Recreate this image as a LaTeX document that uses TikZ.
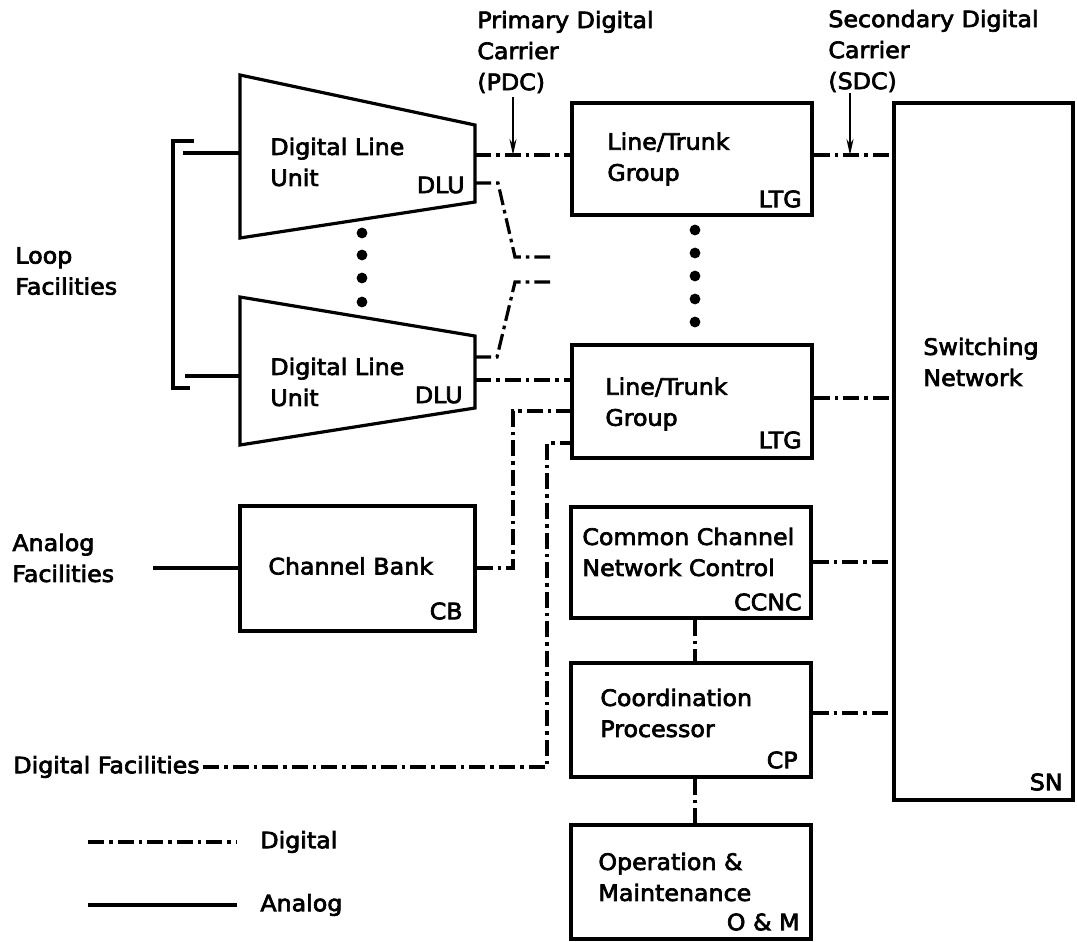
\documentclass[tikz,border=0pt]{standalone}
\usepackage{fontspec}
\setmainfont{DejaVu Sans}[FakeStretch=1.05, FakeBold=3]
\usetikzlibrary{arrows.meta,fit}

\begin{document}
\begin{tikzpicture}[x=0.5pt, y=-0.5pt,
    box/.style={draw, line width=1.6pt, inner sep=0pt},
    digital/.style={line width=1.6pt, dash pattern=on 8pt off 2.5pt on 1.8pt off 2.5pt},
    analog/.style={line width=1.6pt},
    pointer/.style={line width=1pt, -{Stealth[length=8pt, width=3.5pt]}},
    txt/.style={font=\fontsize{11.3}{15.5}\selectfont, align=left, inner sep=0pt, anchor=west},
    tag/.style={font=\fontsize{11.3}{15.5}\selectfont, inner sep=0pt, anchor=east}]
  \useasboundingbox (0,0) rectangle (1077,942);

  % digital line units
  \draw[box, line join=miter] (240,75) -- (475,125) -- (475,202) -- (240,238) -- cycle;
  \node[txt] (dluA text) at (270,162) {Digital Line\\Unit};
  \node[tag] (dluA tag) at (465,185) {DLU};
  \draw[box, line join=miter] (240,297) -- (475,336) -- (475,408) -- (240,445) -- cycle;
  \node[txt] (dluB text) at (270,382) {Digital Line\\Unit};
  \node[tag] (dluB tag) at (463,395) {DLU};
  \coordinate (dluA p) at (475,155);
  \coordinate (dluA q) at (475,183);
  \coordinate (dluB p) at (475,380);
  \coordinate (dluB q) at (475,357);
  \coordinate (dluA in) at (240,153);
  \coordinate (dluB in) at (240,376);
  \foreach \y in {233,255,278,302}
    \fill (362,\y) circle (2.7pt);

  % boxes
  \node[box, fit={(572,103) (812,215)}] (ltgA) {};
  \node[txt] (ltgA text) at (607,159) {Line/Trunk\\Group};
  \node[tag] (ltgA tag) at (802,199) {LTG};
  \node[box, fit={(572,345) (812,458)}] (ltgB) {};
  \node[txt] (ltgB text) at (605,404) {Line/Trunk\\Group};
  \node[tag] (ltgB tag) at (802,440) {LTG};
  \foreach \y in {230,253,276,299,322}
    \fill (695,\y) circle (2.7pt);
  \node[box, fit={(894,103) (1073,800)}] (sn) {};
  \node[txt] (sn text) at (923,362) {Switching\\Network};
  \node[tag] (sn tag) at (1063,782) {SN};
  \node[box, fit={(240,506) (475,631)}] (cb) {};
  \node[txt] (cb text) at (268,566) {Channel Bank};
  \node[tag] (cb tag) at (463,611) {CB};
  \node[box, fit={(571,507) (811,618)}] (ccnc) {};
  \node[txt] (ccnc text) at (582,552) {Common Channel\\Network Control};
  \node[tag] (ccnc tag) at (802,602) {CCNC};
  \node[box, fit={(571,663) (811,777)}] (cp) {};
  \node[txt] (cp text) at (600,713) {Coordination\\Processor};
  \node[tag] (cp tag) at (798,760) {CP};
  \node[box, fit={(571,825) (811,939)}] (om) {};
  \node[txt] (om text) at (598,877) {Operation \&\\Maintenance};
  \node[tag] (om tag) at (800,922) {O \& M};

  % outside labels
  \node[txt] (pdc text) at (477,52) {Primary Digital\\Carrier\\(PDC)};
  \node[txt] (sdc text) at (828,51) {Secondary Digital\\Carrier\\(SDC)};
  \node[txt] (loop) at (15,271) {Loop\\Facilities};
  \node[txt] (afac) at (12,558) {Analog\\Facilities};
  \node[txt] (dfac) at (13,767) {Digital Facilities};

  % loop facilities
  \draw[analog, line join=miter] (194,141) -- (173,141) -- (173,388) -- (190,388);
  \draw[analog] (183,153) -- (dluA in);
  \draw[analog] (185,376) -- (dluB in);

  % carriers
  \draw[digital] (dluA p) -- (ltgA.west |- dluA p);
  \draw[digital] (ltgA.east |- dluA p) -- (sn.west |- dluA p);
  \draw[pointer] (513,97) -- (513,155);
  \draw[pointer] (850,93) -- (850,155);
  \draw[digital] (dluA q) -- (498,183) -- (515,257) -- (550,257);
  \draw[digital] (dluB q) -- (497,357) -- (515,282) -- (550,282);
  \draw[digital] (dluB p) -- (ltgB.west |- dluB p);
  \draw[digital] (ltgB.east |- 0,398) -- (sn.west |- 0,398);
  \draw[analog] (153,568) -- (cb.west |- 0,568);
  \draw[digital] (cb.east |- 0,568) -- (513,568) -- (513,411) -- (ltgB.west |- 0,411);
  \draw[digital] (dfac.east) ++(3,0) -- (547,767) -- (547,443) -- (ltgB.west |- 0,443);
  \draw[digital] (ccnc.east |- 0,562) -- (sn.west |- 0,562);
  \draw[digital] (cp.east |- 0,713) -- (sn.west |- 0,713);
  \draw[digital] (ccnc.south -| 695,0) -- (cp.north -| 695,0);
  \draw[digital] (cp.south -| 695,0) -- (om.north -| 695,0);

  % legend
  \coordinate (key d) at (88,842);
  \coordinate (key a) at (88,905);
  \node[txt] (key d text) at (260,842) {Digital};
  \node[txt] (key a text) at (260,905) {Analog};
  \draw[digital] (key d) -- (237,842);
  \draw[analog] (key a) -- (237,905);
\end{tikzpicture}
\end{document}
